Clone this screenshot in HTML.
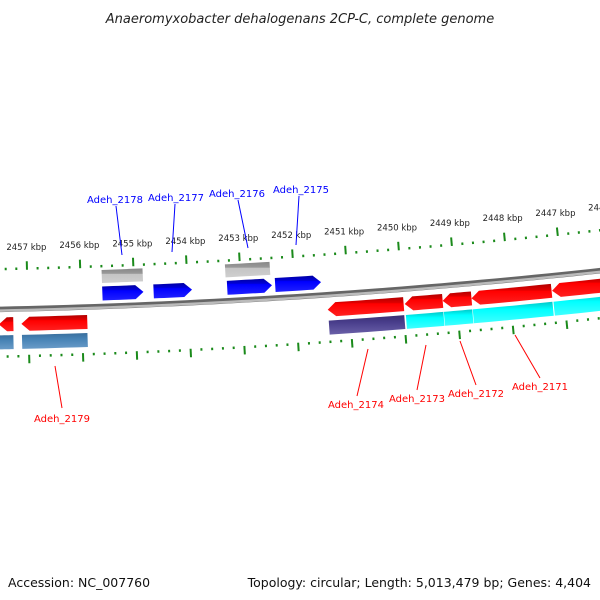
<!DOCTYPE html>
<html><head><meta charset="utf-8">
<style>
html,body{margin:0;padding:0;background:#fff;}
svg{display:block;font-family:"DejaVu Sans","Liberation Sans",sans-serif;}
</style></head>
<body>
<svg id="chart" width="600" height="600" viewBox="0 0 600 600" xmlns="http://www.w3.org/2000/svg">
<defs>
<linearGradient id="gRed" x1="0" y1="0" x2="0" y2="1"><stop offset="0" stop-color="#b00000"/><stop offset="0.3" stop-color="#e00000"/><stop offset="0.35" stop-color="#ff0000"/><stop offset="1" stop-color="#ff2020"/></linearGradient>
<linearGradient id="gBlue" x1="0" y1="0" x2="0" y2="1"><stop offset="0" stop-color="#0000a0"/><stop offset="0.3" stop-color="#0000d8"/><stop offset="0.35" stop-color="#0000ff"/><stop offset="1" stop-color="#2020ff"/></linearGradient>
<linearGradient id="gGray" x1="0" y1="0" x2="0" y2="1"><stop offset="0" stop-color="#888"/><stop offset="0.35" stop-color="#999"/><stop offset="0.4" stop-color="#c4c4c4"/><stop offset="1" stop-color="#cfcfcf"/></linearGradient>
<linearGradient id="gSteel" x1="0" y1="0" x2="0" y2="1"><stop offset="0" stop-color="#3a6e9c"/><stop offset="0.35" stop-color="#4682b4"/><stop offset="1" stop-color="#6a9cc8"/></linearGradient>
<linearGradient id="gPurple" x1="0" y1="0" x2="0" y2="1"><stop offset="0" stop-color="#3a3070"/><stop offset="0.35" stop-color="#483d8b"/><stop offset="1" stop-color="#6a60a8"/></linearGradient>
<linearGradient id="gCyan" x1="0" y1="0" x2="0" y2="1"><stop offset="0" stop-color="#00c8c8"/><stop offset="0.35" stop-color="#00ffff"/><stop offset="1" stop-color="#40ffff"/></linearGradient>
</defs>
<text x="300" y="23" text-anchor="middle" font-size="13" font-style="italic" fill="#222">Anaeromyxobacter dehalogenans 2CP-C, complete genome</text>
<g id="layer"></g>
<text x="8" y="587" font-size="12.5" fill="#111">Accession: NC_007760</text>
<text x="591" y="587" text-anchor="end" font-size="12.5" fill="#111">Topology: circular; Length: 5,013,479 bp; Genes: 4,404</text>
</svg>
<script>
// data (kbp)
const majorTicks = [2458, 2457, 2456, 2455, 2454, 2453, 2452, 2451, 2450, 2449, 2448, 2447, 2446];
const tickLabels = ["2458 kbp","2457 kbp","2456 kbp","2455 kbp","2454 kbp","2453 kbp","2452 kbp","2451 kbp","2450 kbp","2449 kbp","2448 kbp","2447 kbp","2446 kbp"];
const fwdGeneStarts = [2455.60, 2454.64, 2453.26, 2452.36];
const fwdGeneEnds   = [2454.83, 2453.92, 2452.42, 2451.50];
const fwdGeneNames  = ["Adeh_2178","Adeh_2177","Adeh_2176","Adeh_2175"];
const grayStarts = [2455.60, 2453.28];
const grayEnds   = [2454.83, 2452.44];
const revGeneStarts = [2457.55, 2457.13, 2451.41, 2449.97, 2449.26, 2448.72, 2447.21];
const revGeneEnds   = [2457.28, 2455.90, 2449.99, 2449.26, 2448.72, 2447.22, 2445.80];
const revGeneNames  = ["Adeh_2180","Adeh_2179","Adeh_2174","Adeh_2173","Adeh_2172","Adeh_2171","Adeh_2170"];
const revBarColors  = ["steel","steel","purple","cyan","cyan","cyan","cyan"];

const R = 7000, CX = -150, CY = 311 - 7000, PXK = 53.5;
const NS = "http://www.w3.org/2000/svg";
const layer = document.getElementById('layer');
function theta(p){ const s = 135 + (2455 - p) * PXK; return (s - CX) / R; }
function pt(p, off){ const t = theta(p), r = R - off; return [CX + r*Math.sin(t), CY + r*Math.cos(t)]; }
function mk(tag, attrs){ const e = document.createElementNS(NS, tag); for (const k in attrs) e.setAttribute(k, attrs[k]); layer.appendChild(e); return e; }

// backbone
(function(){
  let d = ""; for (let i = 0; i <= 60; i++){ const p = 2461 - i*0.25; const q = pt(p, 0); d += (i ? "L" : "M") + q[0].toFixed(2) + "," + q[1].toFixed(2); }
  const a = mk('path', {d: d, fill: "none", stroke: "#666", "stroke-width": 5.5});
  
  
  const b = mk('path', {d: d, fill: "none", stroke: "#bbb", "stroke-width": 2.5, transform: "translate(0,1.2)"});
  
  
})();

// ticks
function drawTicks(offDot, dirSign, name){
  for (let k = 0; k < majorTicks.length - 1; k++){
    for (let j = 0; j < 5; j++){
      const p = majorTicks[k] - j*0.2;
      let a, b;
      if (j === 0){ a = pt(p, offDot - dirSign*1); b = pt(p, offDot + dirSign*7.5); }
      else { a = pt(p, offDot - dirSign*1); b = pt(p, offDot + dirSign*1.5); }
      const l = mk('line', {x1: a[0], y1: a[1], x2: b[0], y2: b[1], stroke: "#1a8a1a", "stroke-width": 2});
      
      
    }
  }
}
drawTicks(40, 1, 'outer');
drawTicks(-47, -1, 'inner');
majorTicks.forEach((p, i) => {
  const q = pt(p, 62);
  const t = mk('text', {x: q[0], y: q[1] + 3, "text-anchor": "middle", "font-size": 8.5, fill: "#222"});
  t.textContent = tickLabels[i];
  
  
});

// gene shape
function shape(p1, p2, offC, h, arrow, fill, name){
  const ah = arrow ? 0.15 : 0; // kbp
  const top = offC + h/2, bot = offC - h/2;
  const n = 6; let pts = [];
  const dir = p1 > p2 ? -1 : 1;
  let body = arrow === 'end' ? p2 - dir*ah : p2;
  let bstart = arrow === 'start' ? p1 + dir*ah : p1;
  for (let i = 0; i <= n; i++){ const p = bstart + (body - bstart)*i/n; pts.push(pt(p, top)); }
  if (arrow === 'end') pts.push(pt(p2, offC));
  for (let i = n; i >= 0; i--){ const p = bstart + (body - bstart)*i/n; pts.push(pt(p, bot)); }
  if (arrow === 'start') pts.push(pt(p1, offC));
  const e = mk('polygon', {points: pts.map(q => q[0].toFixed(2) + "," + q[1].toFixed(2)).join(" "), fill: fill});
  
  
}
grayStarts.forEach((s, i) => shape(s, grayEnds[i], 30, 13, null, "url(#gGray)", 'gray-feature-' + i));
fwdGeneStarts.forEach((s, i) => shape(s, fwdGeneEnds[i], 13, 14, 'end', "url(#gBlue)", 'gene-' + fwdGeneNames[i]));
revGeneStarts.forEach((s, i) => shape(s, revGeneEnds[i], -15, 14, 'start', "url(#gRed)", 'gene-' + revGeneNames[i]));
const barFill = {steel: "url(#gSteel)", purple: "url(#gPurple)", cyan: "url(#gCyan)"};
revGeneStarts.forEach((s, i) => shape(s - 0.005, revGeneEnds[i] + 0.005, -33, 14, null, barFill[revBarColors[i]], 'cds-bar-' + revGeneNames[i]));

// labels
const labels = [
  ["Adeh_2178", "#0000ff", 115, 203, 116, 206, 122, 255],
  ["Adeh_2177", "#0000ff", 176, 201, 175, 204, 172, 252],
  ["Adeh_2176", "#0000ff", 237, 197, 238, 200, 248, 248],
  ["Adeh_2175", "#0000ff", 301, 193, 299, 196, 296, 245],
  ["Adeh_2179", "#ff0000", 62, 422, 55, 366, 62, 408],
  ["Adeh_2174", "#ff0000", 356, 408, 368, 349, 357, 396],
  ["Adeh_2173", "#ff0000", 417, 402, 426, 345, 417, 390],
  ["Adeh_2172", "#ff0000", 476, 397, 460, 341, 476, 385],
  ["Adeh_2171", "#ff0000", 540, 390, 515, 335, 540, 378]
];
labels.forEach(L => {
  const l = mk('line', {x1: L[4], y1: L[5], x2: L[6], y2: L[7], stroke: L[1], "stroke-width": 1});
  
  
  const t = mk('text', {x: L[2], y: L[3], "text-anchor": "middle", "font-size": 10, fill: L[1]});
  t.textContent = L[0];
  
  
});
</script>
</body></html>
